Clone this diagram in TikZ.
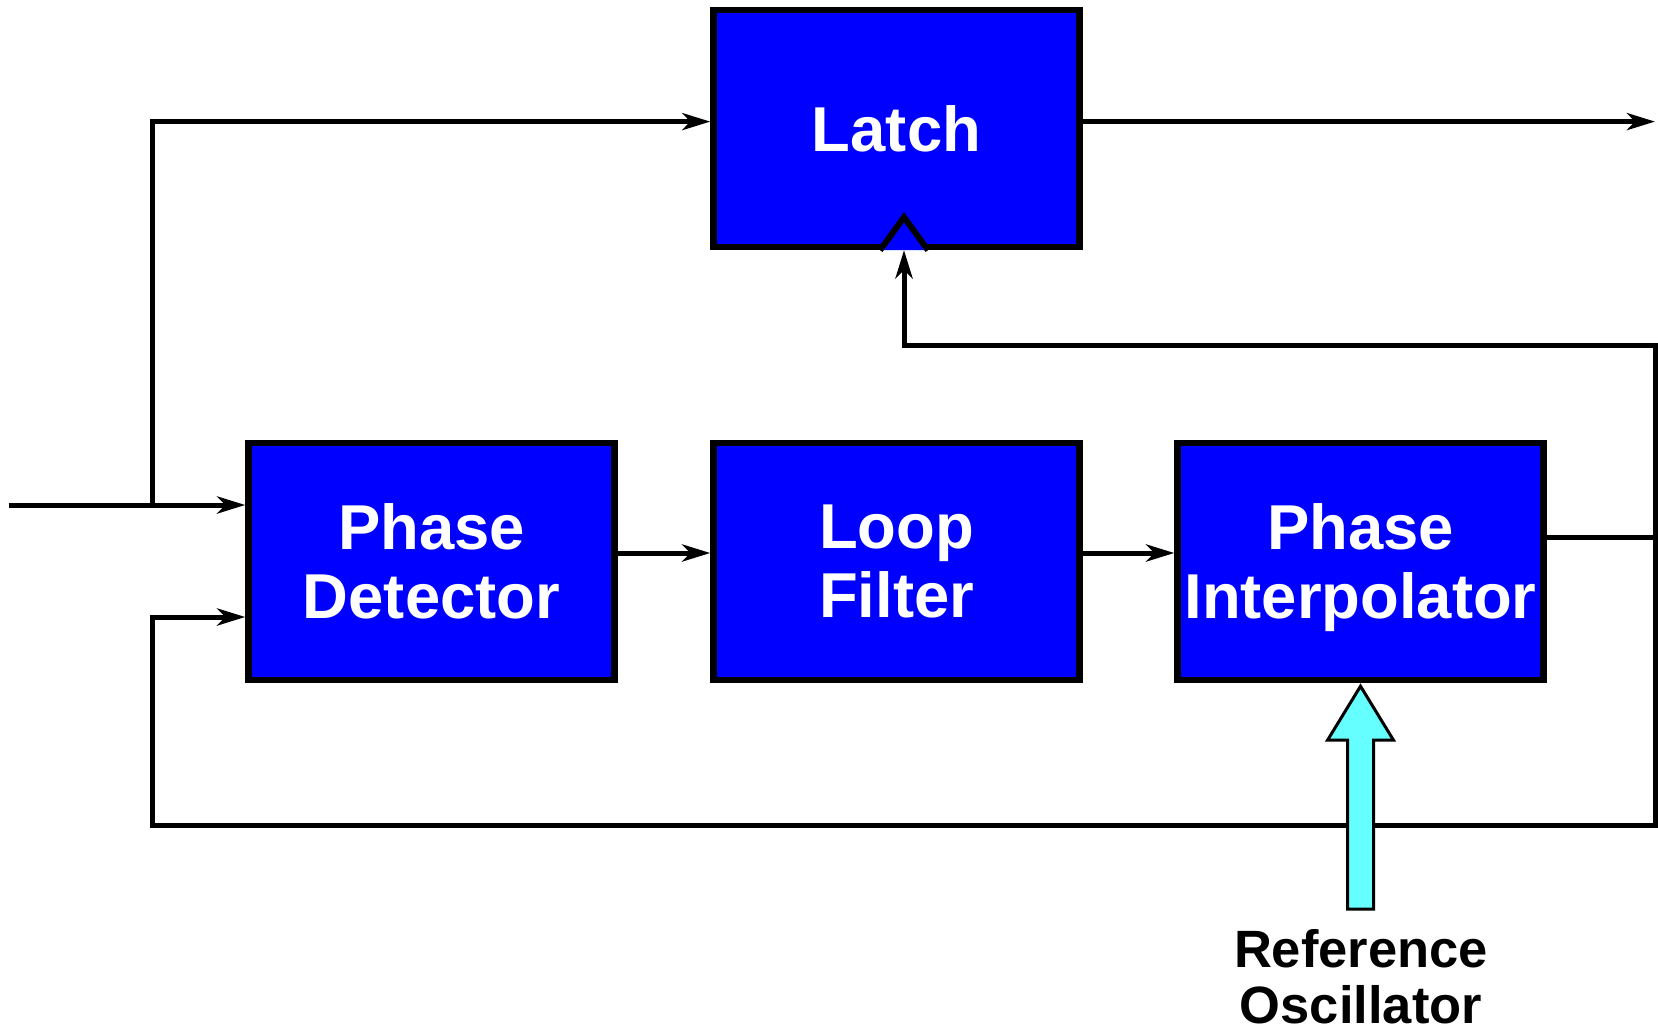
\documentclass[tikz,border=0pt]{standalone}
\usepackage{fontspec}
\setmainfont{Liberation Sans}
\usetikzlibrary{arrows.meta,calc}
\definecolor{blockblue}{RGB}{0,0,255}
\definecolor{osccyan}{RGB}{102,255,255}
\tikzset{>={Stealth[length=14pt,width=8.5pt,inset=4pt]}}
\tikzset{
  block/.style={draw,line width=3.2pt,fill=blockblue,text=white,
    minimum width=183pt,minimum height=118.5pt,inner sep=0pt,align=center,
    font=\fontsize{31.7pt}{34.5pt}\selectfont\bfseries},
  wire/.style={line width=2.5pt},
}

\begin{document}
\begin{tikzpicture}[x=0.5pt,y=0.5pt]
  \useasboundingbox (0,0) rectangle (1658,1030);
  % 
  \node[block] (latch) at (896.5,901.5) {Latch};
  \node[block] (pd) at (431.5,468.5) {Phase\\Detector};
  \node[block] (lf) at (896.5,468.5) {Loop\\Filter};
  \node[block] (pi) at (1360.5,468.5) {Phase\\\raisebox{0pt}[\height][0pt]{Interpolator}};
  % 
  \coordinate (in) at (8.5,525);
  \coordinate (split) at (152,525);
  \coordinate (top) at (152,908.4);
  \coordinate (out) at (1655,908.4);
  \coordinate (mid) at (0,477);
  \coordinate (piout) at (1655,493);
  \coordinate (rail) at (1655,685);
  \coordinate (railb) at (1655,205);
  \coordinate (ret) at (152,205);
  \coordinate (fbin) at (152,413);
  \coordinate (clk) at ($(latch.south)+(7.5,0)$);
  % 
  \draw[wire,->] (in) -- (pd.west |- in);
  \draw[wire,->] (split) -- (top) -- (latch.west |- top);
  \draw[wire,->] (latch.east |- out) -- (out);
  \draw[wire,->] (pd.east |- mid) -- (lf.west |- mid);
  \draw[wire,->] (lf.east |- mid) -- (pi.west |- mid);
  \draw[wire] (pi.east |- piout) -- (piout);
  \draw[wire,<->] (clk) -- (clk |- rail) -- (rail) -- (railb) -- (ret) -- (fbin) -- (pd.west |- fbin);
  % clock input of the latch
  \draw[line width=3pt,fill=blockblue] ($(clk)+(-24,0)$) -- ($(clk)+(0,33)$) -- ($(clk)+(24,0)$);
  % reference clock
  \coordinate (osc) at ($(pi.south)+(0,-3)$);
  \draw[line width=1.5pt,fill=osccyan] (osc) -- ++(33,-54) -- ++(-20,0) -- ++(0,-169)
    -- ++(-26,0) -- ++(0,169) -- ++(-20,0) -- cycle;
  \node[align=center,font=\fontsize{26.25pt}{28pt}\selectfont\bfseries] (osclabel) at (1361,53) {Reference\\Oscillator};
\end{tikzpicture}
\end{document}
